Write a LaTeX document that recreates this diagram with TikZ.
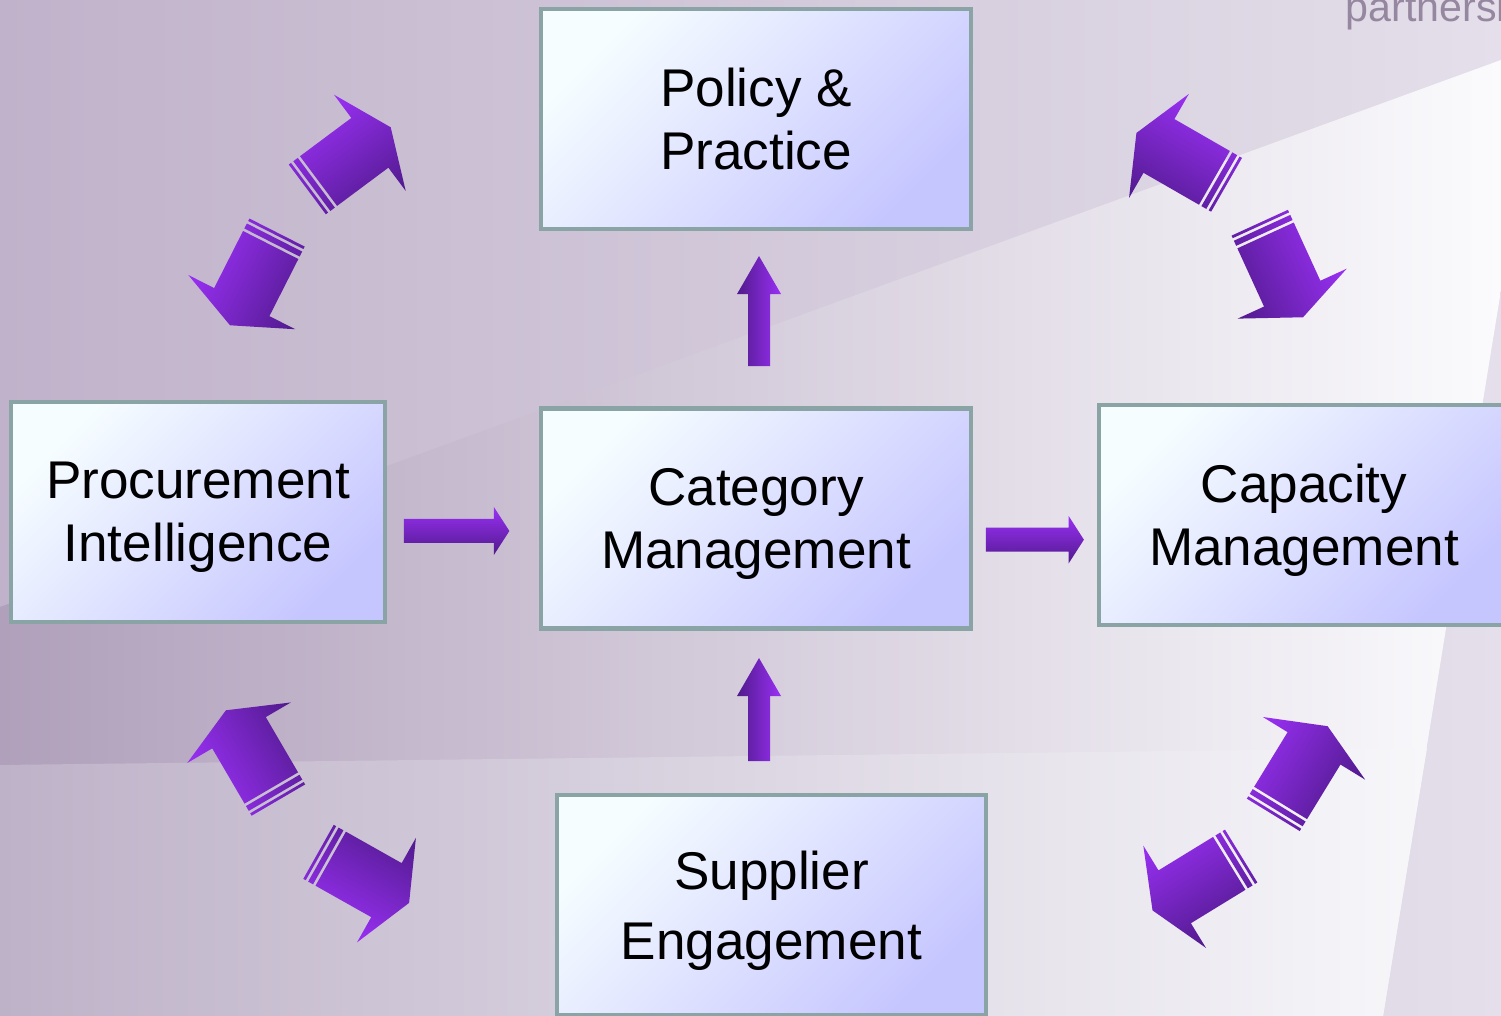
\documentclass[tikz,border=0pt]{standalone}
\usepackage{fontspec}
\setmainfont{Liberation Sans}

\definecolor{boxline}{RGB}{138,164,166}
\definecolor{boxtop}{RGB}{246,253,255}
\definecolor{boxbot}{RGB}{198,198,255}
\definecolor{arrlight}{RGB}{154,48,245}
\definecolor{arrdark}{RGB}{80,26,140}
\definecolor{bgleft}{RGB}{192,178,202}
\definecolor{bgright}{RGB}{228,223,234}
\definecolor{bandleft}{RGB}{176,160,187}
\definecolor{bandright}{RGB}{251,251,253}
\definecolor{lowleft}{RGB}{190,178,200}
\definecolor{lowright}{RGB}{247,247,250}
\definecolor{logo}{RGB}{150,135,160}

\tikzset{
  box/.style={draw=boxline, line width=1.28pt, top color=boxtop, bottom color=boxbot,
    shading angle=45, minimum height=2.195cm, align=center, text depth=0pt,
    font=\fontsize{15.1}{17.8}\selectfont},
  flow/.style={top color=arrlight, bottom color=arrdark},
  flowup/.style={top color=arrdark, bottom color=arrlight},
}

% block arrow: style, tip, angle, length, head length, head half width, shaft half width
\newcommand{\flowarrow}[7]{%
  \begin{scope}[transform canvas={shift={(#2)}, rotate=#3}]
    \shade[#1] (0,0) -- (-#5,#6) -- (-#5,#7) -- (-#4,#7) -- (-#4,-#7) -- (-#5,-#7) -- (-#5,-#6) -- cycle;
  \end{scope}}

% striped arrow: tip x, tip y, angle, flip
\newcommand{\stripearrow}[4]{%
  \begin{scope}[transform canvas={shift={(#1,#2)}, rotate=#3, yscale=#4}]
    \shade[flow] (0,0) -- (-26,60) -- (-26,31) -- (-90,31) -- (-90,-31) -- (-26,-31) -- (-26,-60) -- cycle
      (-92.8,-31) rectangle (-98.4,31) (-101.2,-31) rectangle (-104,31);
  \end{scope}}

\begin{document}
\begin{tikzpicture}[x=0.01cm, y=0.01cm]
\useasboundingbox (0,0) rectangle (1501,1016);
\clip (0,0) rectangle (1501,1016);

% background
\shade[left color=bgleft, right color=bgright] (0,0) rectangle (1501,1016);
\shade[left color=bandleft, right color=bandright] (0,409) -- (1501,956) -- (1501,726) -- (1383,0) -- (0,0) -- cycle;
\shade[left color=lowleft, right color=lowright] (0,251) -- (1427,268) -- (1383,0) -- (0,0) -- cycle;
\node[anchor=base west, inner sep=0pt, text=logo, font=\fontsize{11.7}{12}\selectfont] (logo) at (1345,994) {partnersh};

% boxes
\node[box, minimum width=4.295cm] (pol) at (756,897) {Policy \&\\Practice};
\node[box, minimum width=3.735cm] (proc) at (198,504) {Procurement\\Intelligence};
\node[box, minimum width=4.295cm] (cat) at (756,497.5) {Category\\Management};
\node[box, minimum width=4.095cm] (cap) at (1304,501) {Capacity\\Management};
\node[box, minimum width=4.285cm, font=\fontsize{15.1}{19.9}\selectfont] (sup) at (771.5,111) {Supplier\\Engagement};

% straight arrows
\coordinate (tpol) at ([shift={(3,-25)}]pol.south);
\coordinate (tcat) at ([shift={(3,-27.5)}]cat.south);
\coordinate (tcatw) at ([shift={(-29.5,-12.5)}]cat.west);
\coordinate (tcap) at ([shift={(-13,-24.7)}]cap.west);
\flowarrow{flowup}{tpol}{90}{110}{38}{22}{11}
\flowarrow{flowup}{tcat}{90}{103}{38}{22}{11}
\flowarrow{flow}{tcatw}{0}{105.5}{15.5}{24}{12}
\flowarrow{flow}{tcap}{0}{98}{15.3}{23.8}{12}

% striped arrows
\stripearrow{390.7}{888.7}{36.7}{1}
\stripearrow{230.0}{690.7}{243.1}{-1}
\stripearrow{1136.4}{883.0}{150.1}{-1}
\stripearrow{1303.0}{698.7}{294.6}{1}
\stripearrow{225.9}{305.7}{120.3}{1}
\stripearrow{409.1}{113.1}{330.6}{-1}
\stripearrow{1327.6}{289.8}{58.5}{1}
\stripearrow{1152.5}{105.6}{211.5}{-1}
\end{tikzpicture}
\end{document}
